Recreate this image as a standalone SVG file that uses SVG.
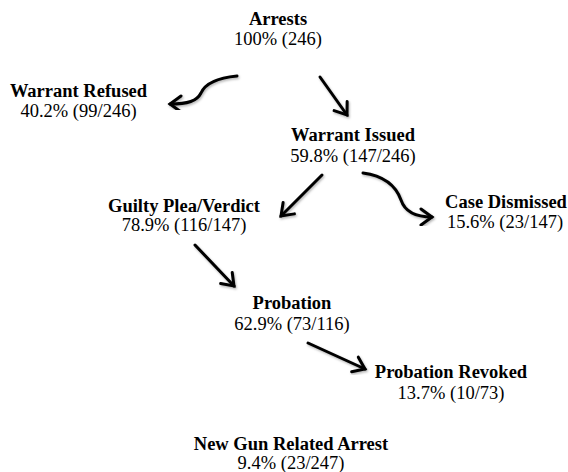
<svg xmlns="http://www.w3.org/2000/svg" width="568" height="472" viewBox="0 0 568 472">
<style>
text{font-family:"Liberation Serif","Times New Roman",serif;font-size:18.5px;fill:#000;text-anchor:middle}
.b{font-weight:bold}
.edge{fill:none;stroke:#000;stroke-width:3;stroke-linecap:round;marker-end:url(#ah);filter:url(#sh)}
</style>
<defs>
<marker id="ah" markerUnits="userSpaceOnUse" markerWidth="20" markerHeight="20" viewBox="-14 -10 16 20" refX="0" refY="0" orient="auto">
<path d="M-11,-8 L0,0 L-11,8" fill="none" stroke="#000" stroke-width="3" stroke-linecap="round" stroke-linejoin="miter"/>
</marker>
<filter id="sh" x="-20%" y="-20%" width="140%" height="140%">
<feDropShadow dx="1" dy="1.5" stdDeviation="1" flood-color="#000" flood-opacity="0.3"/>
</filter>
</defs>
<rect width="568" height="472" fill="#fff"/>
<g id="connectors">
<path class="edge" d="M237,76 C216,78 205,84 201,93 C197,101 188,104 170,104"/>
<path class="edge" d="M320,77 L347,115"/>
<path class="edge" d="M322,175 L281,216"/>
<path class="edge" d="M363,173 C385,176 396,186 401,200 C405,212 415,217 432,217"/>
<path class="edge" d="M195,245 L234,286"/>
<path class="edge" d="M308,343 L365,369"/>
</g>
<g id="arrests"><text class="b" x="278" y="25">Arrests</text><text x="278" y="45">100% (246)</text></g>
<g id="warrant-refused"><text class="b" x="78.5" y="96.5">Warrant Refused</text><text x="78.5" y="116.5">40.2% (99/246)</text></g>
<g id="warrant-issued"><text class="b" x="353" y="141">Warrant Issued</text><text x="353" y="161.5">59.8% (147/246)</text></g>
<g id="guilty"><text class="b" x="184" y="211.5">Guilty Plea/Verdict</text><text x="184" y="231">78.9% (116/147)</text></g>
<g id="case-dismissed"><text class="b" x="506" y="208">Case Dismissed</text><text x="505" y="228">15.6% (23/147)</text></g>
<g id="probation"><text class="b" x="292" y="309">Probation</text><text x="292" y="329.5">62.9% (73/116)</text></g>
<g id="probation-revoked"><text class="b" x="451" y="378">Probation Revoked</text><text x="451" y="399">13.7% (10/73)</text></g>
<g id="new-gun-arrest"><text class="b" x="291" y="449.5">New Gun Related Arrest</text><text x="291" y="469">9.4% (23/247)</text></g>
</svg>
